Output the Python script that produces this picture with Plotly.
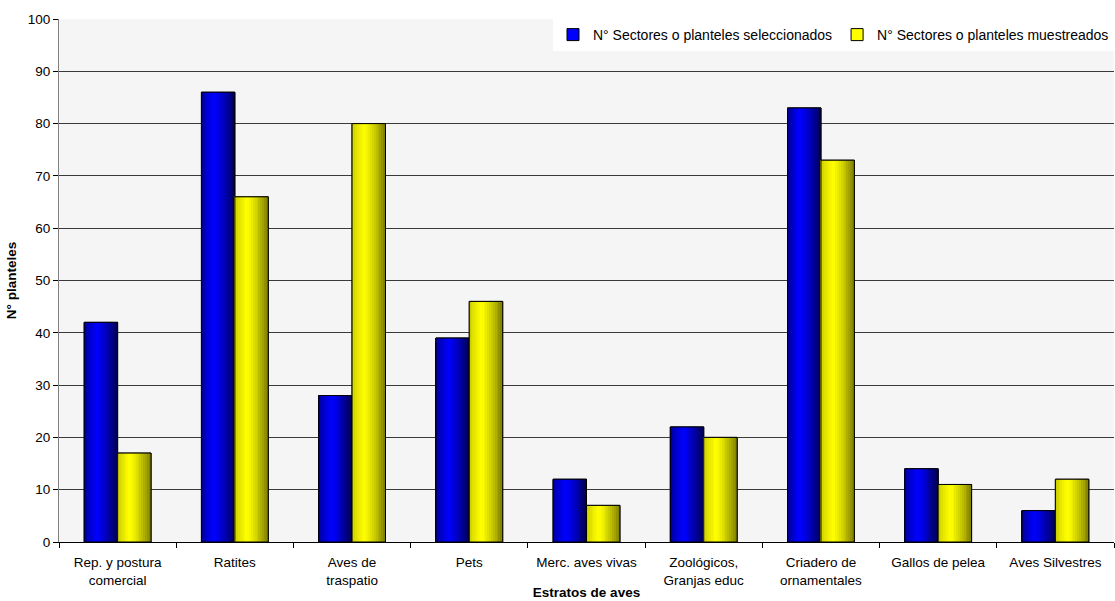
import plotly.graph_objects as go

categories = ["Rep. y postura<br>comercial", "Ratites", "Aves de<br>traspatio", "Pets",
              "Merc. aves vivas", "Zoológicos,<br>Granjas educ", "Criadero de<br>ornamentales",
              "Gallos de pelea", "Aves Silvestres"]
seleccionados = [42, 86, 28, 39, 12, 22, 83, 14, 6]
muestreados = [17, 66, 80, 46, 7, 20, 73, 11, 12]
series_names = ["N° Sectores o planteles seleccionados", "N° Sectores o planteles muestreados"]

BW = 0.285
N = 18

def lerp(c1, c2, t):
    return tuple(int(round(a + (b - a) * t)) for a, b in zip(c1, c2))

def profile(t, dark_l, bright, dark_r, peak=0.38):
    if t <= peak:
        return lerp(dark_l, bright, (t / peak) ** 0.7)
    return lerp(bright, dark_r, ((t - peak) / (1 - peak)) ** 1.3)

fig = go.Figure()
specs = [
    (seleccionados, series_names[0], "#0000ff", -BW, (0, 0, 130), (0, 0, 255), (0, 0, 80)),
    (muestreados, series_names[1], "#ffff00", 0.0, (195, 195, 0), (255, 255, 0), (125, 125, 0)),
]
for vals, name, base, off, dl, br, dr in specs:
    fig.add_trace(go.Bar(x=categories, y=vals, name=name, offset=off, width=BW,
                         marker=dict(color=base, line=dict(color="black", width=1)),
                         hoverinfo="y"))
    for i in range(N):
        t = (i + 0.5) / N
        c = profile(t, dl, br, dr)
        fig.add_trace(go.Bar(x=categories, y=vals, offset=off + BW * i / N, width=BW / N * 1.05,
                             marker=dict(color="rgb(%d,%d,%d)" % c, line=dict(width=0)),
                             showlegend=False, hoverinfo="skip"))
    fig.add_trace(go.Bar(x=categories, y=vals, offset=off, width=BW,
                         marker=dict(color="rgba(0,0,0,0)", line=dict(color="black", width=1)),
                         showlegend=False, hoverinfo="skip"))

fig.update_layout(
    width=1115, height=601,
    margin=dict(l=59, r=1, t=19, b=59),
    barmode="overlay",
    paper_bgcolor="white",
    plot_bgcolor="#f5f5f5",
    font=dict(family="Liberation Sans, Arial, sans-serif", size=13.5, color="black"),
    legend=dict(orientation="h", x=1, xanchor="right", y=1, yanchor="top",
                bgcolor="white", font=dict(size=14), itemwidth=30,
                traceorder="normal", tracegroupgap=0),
    xaxis=dict(type="category", tickson="boundaries", ticks="outside", ticklen=5,
               tickcolor="black", showline=True, linecolor="black", linewidth=1,
               showgrid=False, range=[-0.5, 8.5], ticklabelstandoff=8,
               tickfont=dict(size=13.5),
               title=dict(text="<b>Estratos de aves</b>", font=dict(size=13.5), standoff=0)),
    yaxis=dict(range=[0, 100], dtick=10, ticks="outside", ticklen=5, tickcolor="black",
               showline=True, linecolor="#808080", linewidth=1,
               gridcolor="#3a3a3a", gridwidth=1, zeroline=False,
               tickfont=dict(size=13.5),
               title=dict(text="<b>N° planteles</b>", font=dict(size=13.5), standoff=8)),
)
fig.write_html("out.html")
